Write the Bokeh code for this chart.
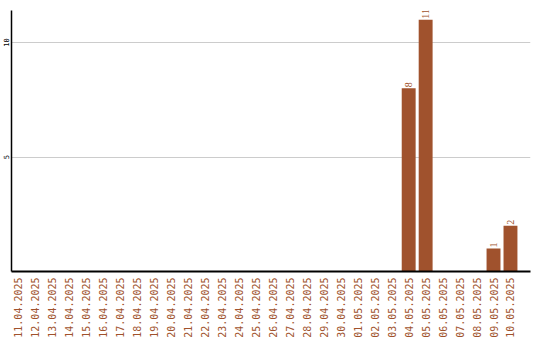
import math
from bokeh.plotting import figure
from bokeh.models import ColumnDataSource, Range1d, FixedTicker, LabelSet
from bokeh.embed import file_html
from bokeh.resources import INLINE

# Daily counts, 11.04.2025 - 10.05.2025
dates = [
    "11.04.2025", "12.04.2025", "13.04.2025", "14.04.2025", "15.04.2025",
    "16.04.2025", "17.04.2025", "18.04.2025", "19.04.2025", "20.04.2025",
    "21.04.2025", "22.04.2025", "23.04.2025", "24.04.2025", "25.04.2025",
    "26.04.2025", "27.04.2025", "28.04.2025", "29.04.2025", "30.04.2025",
    "01.05.2025", "02.05.2025", "03.05.2025", "04.05.2025", "05.05.2025",
    "06.05.2025", "07.05.2025", "08.05.2025", "09.05.2025", "10.05.2025",
]
counts = [0, 0, 0, 0, 0, 0, 0, 0, 0, 0,
          0, 0, 0, 0, 0, 0, 0, 0, 0, 0,
          0, 0, 0, 8, 11, 0, 0, 0, 1, 2]
y_ticks = [5, 10]

BAR = "#A0522D"
FONT = "DejaVu Sans Mono"

# each day occupies one unit slot; bars sit at the slot centres
pos = [i + 0.5 for i in range(len(dates))]
labels = [str(c) if c > 0 else "" for c in counts]
src = ColumnDataSource(data=dict(x=pos, count=counts, label=labels))

p = figure(
    width=540, height=340,
    x_range=Range1d(0.09, 30.68),
    y_range=Range1d(0, 11.4),
    output_backend="svg", toolbar_location=None,
    min_border_left=0, min_border_right=10, min_border_top=10, min_border_bottom=0,
)
p.outline_line_color = None
p.background_fill_color = "white"
p.border_fill_color = "white"

p.vbar(x="x", top="count", width=0.82, source=src, color=BAR, line_color=None)

p.add_layout(LabelSet(
    x="x", y="count", text="label", source=src, angle=math.pi / 2,
    text_align="left", text_baseline="middle", y_offset=1,
    text_color=BAR, text_font=FONT, text_font_size="10px",
))

# x axis: one rotated date label per day
xa = p.xaxis[0]
xa.ticker = FixedTicker(ticks=pos)
xa.major_label_overrides = {x: d for x, d in zip(pos, dates)}
xa.major_label_orientation = math.pi / 2
xa.major_label_text_color = BAR
xa.major_label_text_font = FONT
xa.major_label_text_font_size = "10px"
xa.major_label_standoff = 6
xa.major_tick_in = 0
xa.major_tick_out = 0
xa.minor_tick_in = 0
xa.minor_tick_out = 0
xa.axis_line_color = "black"
xa.axis_line_width = 2

# y axis: labels run along the axis
ya = p.yaxis[0]
ya.ticker = FixedTicker(ticks=y_ticks)
ya.major_label_orientation = "parallel"
ya.major_label_text_font = FONT
ya.major_label_text_font_size = "7px"
ya.major_label_text_color = "black"
ya.major_label_standoff = 2
ya.major_tick_in = 0
ya.major_tick_out = 0
ya.minor_tick_in = 0
ya.minor_tick_out = 0
ya.axis_line_color = "black"
ya.axis_line_width = 1.5

p.xgrid.grid_line_color = None
p.ygrid.ticker = FixedTicker(ticks=y_ticks)
p.ygrid.grid_line_color = "#cccccc"

open("out.html", "w").write(file_html(p, INLINE))
